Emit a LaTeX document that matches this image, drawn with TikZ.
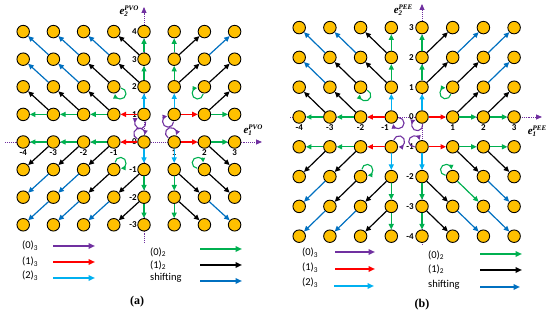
\documentclass[tikz,border=0pt]{standalone}
\usepackage{fontspec}
\setmainfont{Carlito}
\newfontfamily\capfont{Liberation Serif}
\usetikzlibrary{arrows.meta,calc}
\definecolor{dotfill}{HTML}{FFC000}
\definecolor{cpurple}{HTML}{7030A0}
\definecolor{cred}{HTML}{FF0000}
\definecolor{ccyan}{HTML}{00B0F0}
\definecolor{cgreen}{HTML}{00B050}
\definecolor{cblue}{HTML}{0070C0}
\newcommand{\elab}[2]{{\capfont\bfseries\itshape e\makebox[0pt][l]{\raisebox{-2.5pt}{\fontsize{7}{8}\selectfont #1}}\raisebox{4pt}{\fontsize{7}{8}\selectfont #2}}}
\tikzset{
 dot/.style={circle, draw=black, fill=dotfill, line width=0.9pt, minimum size=12.5pt, inner sep=0pt},
 conn/.style={line width=1.2pt, -{Triangle[length=5.5pt,width=5pt]}},
 zthree/.style={conn, cpurple}, othree/.style={conn, cred}, tthree/.style={conn, ccyan},
 ztwo/.style={conn, cgreen}, otwo/.style={conn, black}, shiftarr/.style={conn, cblue},
 loopst/.style={line width=1.1pt, -{Triangle[length=4.5pt,width=4.5pt]}},
 axisline/.style={cpurple, densely dotted, line width=0.9pt, -{Triangle[length=6pt,width=5pt]}},
 num/.style={font=\bfseries\fontsize{9}{10}\selectfont, inner sep=0pt},
 leg/.style={font=\fontsize{10.5}{12}\selectfont, inner sep=0pt, anchor=west},
 legarr/.style={line width=1.6pt, -{Triangle[length=6.5pt,width=5.5pt]}},
 axlabel/.style={inner sep=0pt, font=\fontsize{11}{12}\selectfont},
 captext/.style={inner sep=0pt, font=\capfont\bfseries\fontsize{12}{14}\selectfont},
}
\newcommand{\selfloop}[3]{%
 \draw[loopst,#1] ($(#2)+(#3:9.5pt)+(#3+130:5.5pt)$) arc[start angle=#3+130, delta angle=-260, radius=5.5pt];}
\begin{document}
\begin{tikzpicture}[x=1pt,y=1pt]
\useasboundingbox (0,0) rectangle (550,315);
% ---------------- left panel (a) ----------------
\draw[axisline] (5,173) -- (262,173);
\draw[axisline] (144,72) -- (144,308);
\node[axlabel] (le2) at (129,304) {\elab{2}{PVO}};
\node[axlabel] (le1) at (253,185) {\elab{1}{PVO}};
\foreach \c in {-4,...,3}{\foreach \r in {-3,...,4}{
 \node[dot] (L\c x\r) at ({144+30.2*\c},{173+27.6*\r}) {};}}
\foreach \c in {-4,-3,-2,-1,1,2,3}{\node[num] (lx\c) at ({144+30.2*\c},162) {\c};}
\foreach \r in {-3,...,4}{\node[num,anchor=east] (ly\r) at (137,{173+27.6*\r}) {\r};}
\foreach \pa/\pb/\qa/\qb in {0/1/-1/1, 1/1/2/1, 0/0/-1/0, 1/0/2/0}
 \draw[othree] (L\pa x\pb) -- (L\qa x\qb);
\foreach \pa/\pb/\qa/\qb in {0/1/0/2, 1/1/1/2, 0/0/0/-1, 1/0/1/-1}
 \draw[tthree] (L\pa x\pb) -- (L\qa x\qb);
\foreach \pa/\pb/\qa/\qb in {-1/1/-2/1, -2/1/-3/1, -3/1/-4/1, 0/2/0/3, 0/3/0/4, 2/1/3/1, 1/2/1/3, 1/3/1/4, -1/0/-2/0, -2/0/-3/0, -3/0/-4/0, 0/-1/0/-2, 0/-2/0/-3, 2/0/3/0, 1/-1/1/-2, 1/-2/1/-3}
 \draw[ztwo] (L\pa x\pb) -- (L\qa x\qb);
\foreach \pa/\pb/\qa/\qb in {-1/1/-2/2, -2/1/-3/2, -3/1/-4/2, 0/2/-1/3, 0/3/-1/4, -1/2/-2/3, 2/1/3/2, 1/2/2/3, 1/3/2/4, 2/2/3/3, -1/0/-2/-1, -2/0/-3/-1, -3/0/-4/-1, 0/-1/-1/-2, 0/-2/-1/-3, -1/-1/-2/-2, 2/0/3/-1, 1/-1/2/-2, 1/-2/2/-3, 2/-1/3/-2}
 \draw[otwo] (L\pa x\pb) -- (L\qa x\qb);
\foreach \pa/\pb/\qa/\qb in {-2/2/-3/3, -3/2/-4/3, -1/3/-2/4, -2/3/-3/4, -3/3/-4/4, 2/3/3/4, -2/-1/-3/-2, -3/-1/-4/-2, -1/-2/-2/-3, -2/-2/-3/-3, -3/-2/-4/-3, 2/-2/3/-3}
 \draw[shiftarr] (L\pa x\pb) -- (L\qa x\qb);
\foreach \pa/\pb/\ang in {-1/2/-45, 2/2/-135, -1/-1/45, 2/-1/135}
 {\selfloop{cgreen}{L\pa x\pb}{\ang}}
\foreach \pa/\pb/\ang in {0/1/-113, 1/1/-130, 0/0/120, 1/0/110}
 {\selfloop{cpurple}{L\pa x\pb}{\ang}}
% legend (a)
\node[leg] (la1) at (22,69) {(0)\textsubscript{3}};
\node[leg] (la2) at (22,53) {(1)\textsubscript{3}};
\node[leg] (la3) at (22,39) {(2)\textsubscript{3}};
\node[leg] (la4) at (150,63) {(0)\textsubscript{2}};
\node[leg] (la5) at (150,50) {(1)\textsubscript{2}};
\node[leg] (la6) at (150,37) {shifting};
\coordinate (a1s) at (53,69); \coordinate (a1e) at (95,69);
\coordinate (a2s) at (53,53); \coordinate (a2e) at (95,53);
\coordinate (a3s) at (53,37); \coordinate (a3e) at (95,37);
\coordinate (a4s) at (200,66); \coordinate (a4e) at (242,66);
\coordinate (a5s) at (200,50); \coordinate (a5e) at (242,50);
\coordinate (a6s) at (200,34); \coordinate (a6e) at (242,34);
\draw[legarr,cpurple] (a1s) -- (a1e);
\draw[legarr,cred] (a2s) -- (a2e);
\draw[legarr,ccyan] (a3s) -- (a3e);
\draw[legarr,cgreen] (a4s) -- (a4e);
\draw[legarr,black] (a5s) -- (a5e);
\draw[legarr,cblue] (a6s) -- (a6e);
\node[captext] (capa) at (137,13) {(a)};
% ---------------- right panel (b) ----------------
\draw[axisline] (290,198) -- (542,198);
\draw[axisline] (422,70) -- (422,311);
\node[axlabel] (re2) at (403,305) {\elab{2}{PEE}};
\node[axlabel] (re1) at (537,184) {\elab{1}{PEE}};
\foreach \c in {-4,...,3}{\foreach \r in {-4,...,3}{
 \node[dot] (R\c x\r) at ({422+30.7*\c},{198+29.8*\r}) {};}}
\foreach \c in {-4,-3,-2,1,2,3}{\node[num] (rx\c) at ({422+30.7*\c},187) {\c};}
\node[num] (rxm1) at (385,187) {-1};
\foreach \r in {-4,...,3}{\node[num,anchor=east] (ry\r) at (414,{198+29.8*\r}) {\r};}
\foreach \pa/\pb/\qa/\qb in {-1/0/-2/0, 0/0/1/0, -1/-1/-2/-1, 0/-1/1/-1}
 \draw[othree] (R\pa x\pb) -- (R\qa x\qb);
\foreach \pa/\pb/\qa/\qb in {-1/0/-1/1, 0/0/0/1, -1/-1/-1/-2, 0/-1/0/-2}
 \draw[tthree] (R\pa x\pb) -- (R\qa x\qb);
\foreach \pa/\pb/\qa/\qb in {-2/0/-3/0, -3/0/-4/0, -1/1/-1/2, -1/2/-1/3, 1/0/2/0, 2/0/3/0, 0/1/0/2, 0/2/0/3, -2/-1/-3/-1, -3/-1/-4/-1, -1/-2/-1/-3, -1/-3/-1/-4, 1/-1/2/-1, 2/-1/3/-1, 0/-2/0/-3, 0/-3/0/-4, 1/-2/2/-3}
 \draw[ztwo] (R\pa x\pb) -- (R\qa x\qb);
\foreach \pa/\pb/\qa/\qb in {-2/0/-3/1, -3/0/-4/1, -1/1/-2/2, -1/2/-2/3, -2/1/-3/2, 1/0/2/1, 2/0/3/1, 0/1/1/2, 0/2/1/3, 1/1/2/2, -2/-1/-3/-2, -3/-1/-4/-2, -1/-2/-2/-3, -1/-3/-2/-4, -2/-2/-3/-3, 1/-1/2/-2, 2/-1/3/-2, 0/-2/1/-3, 0/-3/1/-4}
 \draw[otwo] (R\pa x\pb) -- (R\qa x\qb);
\foreach \pa/\pb/\qa/\qb in {-3/1/-4/2, -3/2/-4/3, -2/2/-3/3, 2/1/3/2, 1/2/2/3, 2/2/3/3, -3/-2/-4/-3, -3/-3/-4/-4, -2/-3/-3/-4, 2/-2/3/-3, 1/-3/2/-4, 2/-3/3/-4}
 \draw[shiftarr] (R\pa x\pb) -- (R\qa x\qb);
\foreach \pa/\pb/\ang in {-2/1/-60, 1/1/-140, -2/-2/45, 1/-2/135}
 {\selfloop{cgreen}{R\pa x\pb}{\ang}}
\foreach \pa/\pb/\ang in {-1/0/-40, 0/0/-120, -1/-1/35, 0/-1/145}
 {\selfloop{cpurple}{R\pa x\pb}{\ang}}
% legend (b)
\node[leg] (lb1) at (302,62) {(0)\textsubscript{3}};
\node[leg] (lb2) at (302,47) {(1)\textsubscript{3}};
\node[leg] (lb3) at (302,32) {(2)\textsubscript{3}};
\node[leg] (lb4) at (428,60) {(0)\textsubscript{2}};
\node[leg] (lb5) at (428,46) {(1)\textsubscript{2}};
\node[leg] (lb6) at (428,30) {shifting};
\coordinate (b1s) at (335,63); \coordinate (b1e) at (375,63);
\coordinate (b2s) at (335,46); \coordinate (b2e) at (375,46);
\coordinate (b3s) at (334,29); \coordinate (b3e) at (374,29);
\coordinate (b4s) at (480,61); \coordinate (b4e) at (522,61);
\coordinate (b5s) at (480,45); \coordinate (b5e) at (522,45);
\coordinate (b6s) at (480,28); \coordinate (b6e) at (520,28);
\draw[legarr,cpurple] (b1s) -- (b1e);
\draw[legarr,cred] (b2s) -- (b2e);
\draw[legarr,ccyan] (b3s) -- (b3e);
\draw[legarr,cgreen] (b4s) -- (b4e);
\draw[legarr,black] (b5s) -- (b5e);
\draw[legarr,cblue] (b6s) -- (b6e);
\node[captext] (capb) at (422,10) {(b)};
\end{tikzpicture}
\end{document}
